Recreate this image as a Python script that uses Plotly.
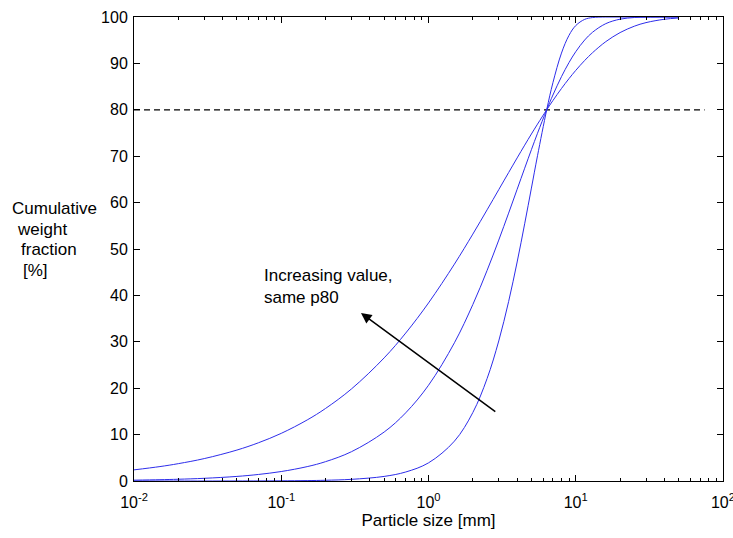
import math
import plotly.graph_objects as go

# Particle sizes [mm] at which the curves were read
size_mm = [0.01, 0.015, 0.02, 0.03, 0.05, 0.07, 0.1, 0.15, 0.2, 0.3, 0.5, 0.7,
           1, 1.5, 2, 2.5, 3, 3.5, 4, 4.5, 5, 5.5, 6.35, 7, 8, 9, 10, 11.5,
           13, 16, 20, 25, 30, 40, 50]

# Cumulative weight fraction [%] - widest distribution
cum_wide = [2.40, 3.11, 3.74, 4.83, 6.67, 8.24, 10.27, 13.16, 15.64, 19.85, 26.54, 31.88,
            38.37, 46.74, 53.21, 58.44, 62.79, 66.47, 69.63, 72.38, 74.79, 76.91, 80.0, 82.00,
            84.59, 86.72, 88.49, 90.63, 92.30, 94.69, 96.64, 98.02, 98.79, 99.51, 99.79]

# middle distribution
cum_mid = [0.18, 0.28, 0.38, 0.58, 0.99, 1.41, 2.04, 3.10, 4.17, 6.32, 10.56, 14.69,
           20.63, 29.79, 38.02, 45.38, 51.92, 57.73, 62.87, 67.41, 71.41, 74.94, 80.0, 83.19,
           87.14, 90.18, 92.52, 95.04, 96.71, 98.57, 99.53, 99.89, 99.97, 100.0, 100.0]

# narrowest distribution
cum_narrow = [0.0, 0.0, 0.0, 0.0, 0.01, 0.02, 0.04, 0.09, 0.16, 0.36, 0.99, 1.94,
              3.91, 8.59, 14.75, 22.08, 30.18, 38.67, 47.20, 55.44, 63.13, 70.10, 80.0, 85.85,
              92.22, 96.05, 98.15, 99.49, 99.88, 100.0, 100.0, 100.0, 100.0, 100.0, 100.0]

p80_level = 80
p80_line_x = [0.01, 75]

arrow_tail = (2.91, 14.7)   # (size mm, %)
arrow_head = (0.348, 36.2)
arrow_text = "Increasing value,<br>same p80"
arrow_text_pos = (0.0745, 46.8)

x_ticks = [0.01, 0.1, 1, 10, 100]
x_ticktext = ["10<sup>-2</sup>", "10<sup>-1</sup>", "10<sup>0</sup>", "10<sup>1</sup>", "10<sup>2</sup>"]
y_ticks = [0, 10, 20, 30, 40, 50, 60, 70, 80, 90, 100]

ylabel_lines = ["Cumulative", "weight", "fraction", "[%]"]

FONT = "Liberation Sans, Arial, Helvetica, sans-serif"
BLUE = "rgb(45,45,235)"

fig = go.Figure()
fig.add_trace(go.Scatter(x=p80_line_x, y=[p80_level, p80_level], mode="lines",
                         line=dict(color="black", width=1.2, dash="6px,4px"),
                         showlegend=False, hoverinfo="skip"))
for ys in (cum_wide, cum_mid, cum_narrow):
    fig.add_trace(go.Scatter(x=size_mm, y=ys, mode="lines",
                             line=dict(color=BLUE, width=1, shape="spline", smoothing=1.0),
                             showlegend=False))

axis_common = dict(showline=True, linecolor="black", linewidth=1, mirror="ticks",
                   ticks="inside", ticklen=6, tickcolor="black", tickwidth=1,
                   showgrid=False, zeroline=False, automargin=False,
                   tickfont=dict(family=FONT, size=16, color="black"))

fig.update_xaxes(type="log", range=[-2.0001, 2.0001], tickvals=x_ticks, ticktext=x_ticktext,
                 ticklabelstandoff=7, ticklabeloverflow="allow",
                 minor=dict(ticks="inside", ticklen=3, tickcolor="black", dtick="D1", showgrid=False),
                 title=dict(text="Particle size [mm]", font=dict(family=FONT, size=17, color="black"),
                            standoff=0),
                 **axis_common)
fig.update_yaxes(range=[0, 100], tickvals=y_ticks, ticklabelstandoff=2, **axis_common)

annotations = [
    dict(x=math.log10(arrow_head[0]), y=arrow_head[1], ax=math.log10(arrow_tail[0]), ay=arrow_tail[1],
         xref="x", yref="y", axref="x", ayref="y", showarrow=True, arrowhead=2,
         arrowsize=1.4, arrowwidth=1.5, arrowcolor="black", text=""),
    dict(x=math.log10(arrow_text_pos[0]), y=arrow_text_pos[1], xref="x", yref="y",
         text=arrow_text, showarrow=False, xanchor="left", yanchor="top", align="left",
         font=dict(family=FONT, size=17, color="black")),
]
ylab_x = [-0.2105, -0.202, -0.195, -0.1915]
ylab_y = [0.588, 0.543, 0.498, 0.453]
for t, xx, yy in zip(ylabel_lines, ylab_x, ylab_y):
    annotations.append(dict(x=xx, y=yy, xref="paper", yref="paper", text=t, showarrow=False,
                            xanchor="left", yanchor="middle",
                            font=dict(family=FONT, size=17, color="black")))

fig.update_layout(width=733, height=538, margin=dict(l=134, r=10, t=17, b=57),
                  plot_bgcolor="white", paper_bgcolor="white", annotations=annotations,
                  font=dict(family=FONT, color="black"))

fig.write_html("out.html")
